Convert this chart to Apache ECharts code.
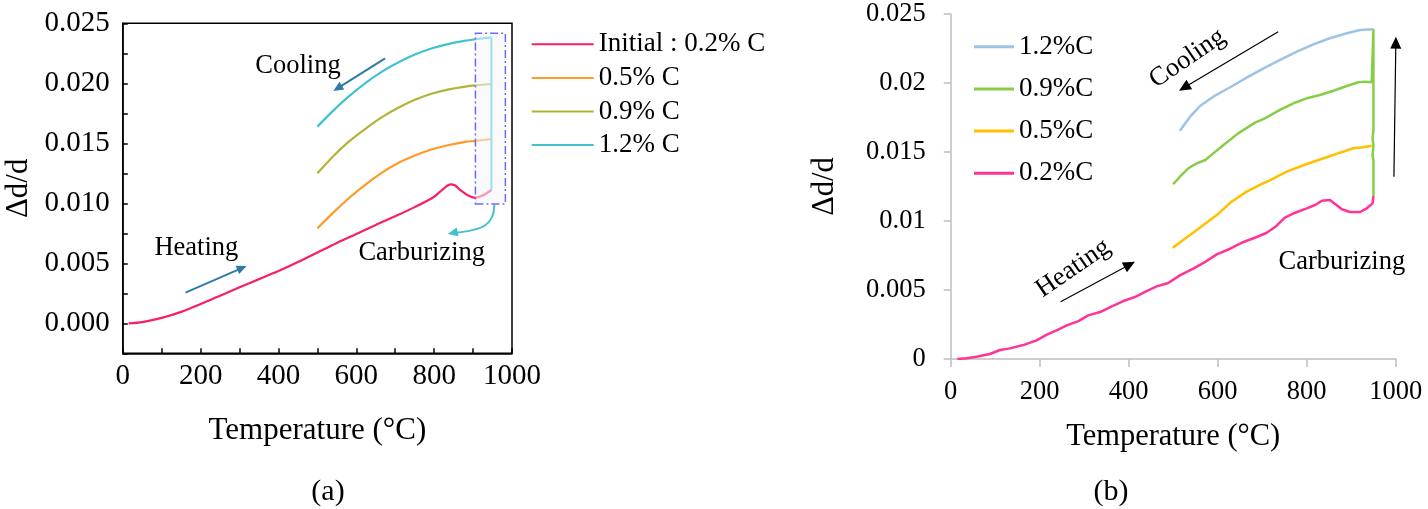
<!DOCTYPE html>
<html><head><meta charset="utf-8">
<script src="https://cdn.jsdelivr.net/npm/echarts@6/dist/echarts.min.js"></script>
<style>html,body{margin:0;padding:0;background:#fff}#c{width:1428px;height:509px}</style>
</head><body><div id="c"></div>
<script>
// ---------- Panel (a) data (values in units of 1e-3) ----------
const aHeatT = [15, 50, 100, 150, 200, 250, 300, 350, 400, 450, 500, 550, 600, 650, 700, 750, 800, 820, 842, 853, 867, 885, 906, 923, 947];
const aHeatV = [0, 0.1, 0.45, 0.95, 1.6, 2.3, 3.0, 3.68, 4.35, 5.1, 5.9, 6.7, 7.45, 8.2, 8.92, 9.68, 10.55, 11.1, 11.58, 11.5, 11.1, 10.7, 10.47, 10.62, 11.11];
const aCoolT = [500, 540, 580, 625, 667, 710, 752, 795, 838, 880, 906, 947];
const a05V = [7.92, 9.2, 10.4, 11.6, 12.58, 13.4, 14.0, 14.5, 14.86, 15.12, 15.2, 15.36];
const a09V = [12.5, 13.9, 15.12, 16.25, 17.2, 18.0, 18.65, 19.15, 19.5, 19.72, 19.82, 19.94];
const a12V = [16.39, 17.7, 18.89, 20.06, 20.99, 21.77, 22.42, 22.92, 23.29, 23.55, 23.67, 23.83];
const aCarbT = [947, 947];
const aCarbV = [11.11, 23.83];
const aNames = ['Initial : 0.2% C', '0.5% C', '0.9% C', '1.2% C'];

// ---------- Panel (b) data (values in units of 1e-3) ----------
const b02T = [15, 36, 58, 88, 111, 133, 163, 193, 216, 238, 261, 287, 309, 336, 362, 388, 414, 440, 463, 489, 515, 545, 568, 598, 628, 658, 688, 710, 729, 751, 774, 800, 819, 834, 852, 867, 879, 897, 920, 935, 948, 950];
const b02V = [0, 0.05, 0.17, 0.36, 0.65, 0.77, 1.01, 1.35, 1.77, 2.08, 2.44, 2.75, 3.16, 3.40, 3.81, 4.20, 4.49, 4.92, 5.26, 5.51, 6.06, 6.55, 6.96, 7.58, 7.99, 8.48, 8.84, 9.15, 9.56, 10.24, 10.6, 10.92, 11.16, 11.47, 11.52, 11.16, 10.85, 10.65, 10.65, 10.92, 11.28, 11.81];
const b05T = [499, 530, 568, 598, 631, 665, 695, 718, 755, 800, 845, 875, 905, 927, 946];
const b05V = [8.07, 8.81, 9.71, 10.43, 11.40, 12.13, 12.61, 12.97, 13.58, 14.13, 14.62, 14.95, 15.27, 15.34, 15.46];
const b09T = [500, 515, 534, 553, 572, 590, 613, 646, 684, 706, 740, 770, 800, 830, 860, 890, 916, 931, 946, 950, 950, 950, 948, 950, 948, 950, 950];
const b09V = [12.66, 13.21, 13.82, 14.18, 14.42, 14.9, 15.51, 16.35, 17.13, 17.44, 18.05, 18.53, 18.89, 19.13, 19.44, 19.78, 20.05, 20.10, 20.05, 20.05, 23.89, 16.6, 16.0, 15.4, 14.8, 14.3, 11.81];
const b12T = [515, 538, 560, 590, 628, 665, 703, 740, 778, 815, 852, 890, 920, 950];
const b12V = [16.54, 17.56, 18.33, 19.01, 19.69, 20.39, 21.06, 21.67, 22.27, 22.80, 23.24, 23.6, 23.84, 23.89];
const bNames = ['1.2%C', '0.9%C', '0.5%C', '0.2%C'];

// ---------- styling ----------
const FONT = '"Liberation Serif","Times New Roman",Times,serif';
const A_COL = ['#f71f68', '#ff9a26', '#b2b338', '#40c2d1'];
const B_COL = ['#9dc3e6', '#86ce47', '#ffc000', '#ff3399'];
const zip = (t, v) => t.map((x, i) => [x, v[i] / 1000]);

const chart = echarts.init(document.getElementById('c'), null, {renderer: 'canvas'});

function lineA(name, t, v, col, smooth) {
  return {name, type: 'line', xAxisIndex: 0, yAxisIndex: 0, data: zip(t, v), smooth: smooth, symbol: 'none',
    lineStyle: {color: col, width: 2.2}, itemStyle: {color: col}, z: 2, silent: true, animation: false};
}
function lineB(name, t, v, col) {
  return {name, type: 'line', xAxisIndex: 1, yAxisIndex: 1, data: zip(t, v), smooth: false, symbol: 'none',
    lineStyle: {color: col, width: 2.5}, itemStyle: {color: col}, z: 2, silent: true, animation: false};
}

const option = {
  animation: false,
  backgroundColor: '#fff',
  textStyle: {fontFamily: FONT},
  grid: [
    {left: 122.8, top: 23.3, width: 389.2, height: 330, show: true, borderColor: '#000', borderWidth: 1.5, backgroundColor: 'transparent', outerBoundsMode: 'none', containLabel: false},
    {left: 950.7, top: 14, width: 445, height: 345, show: false, outerBoundsMode: 'none', containLabel: false}
  ],
  xAxis: [
    {gridIndex: 0, type: 'value', min: 0, max: 1000, interval: 100,
      axisLine: {show: true, onZero: false, lineStyle: {color: '#000', width: 1.5}},
      axisTick: {show: true, inside: true, length: 5, lineStyle: {color: '#000', width: 1.5}},
      splitLine: {show: false},
      axisLabel: {fontSize: 29, color: '#000', fontFamily: FONT, margin: 9,
        formatter: v => { const k = Math.round(v / 100); return k % 2 ? '' : String(k * 100); }},
      name: 'Temperature (°C)', nameLocation: 'middle', nameGap: 62,
      nameTextStyle: {fontSize: 31, color: '#000', fontFamily: FONT}},
    {gridIndex: 1, type: 'value', min: 0, max: 1000, interval: 200,
      axisLine: {show: true, onZero: false, lineStyle: {color: '#bfbfbf', width: 1.5}},
      axisTick: {show: true, inside: false, length: 8, lineStyle: {color: '#bfbfbf', width: 1.5}},
      splitLine: {show: false},
      axisLabel: {fontSize: 26.5, color: '#000', fontFamily: FONT, margin: 20, formatter: v => String(Math.round(v))},
      name: 'Temperature (°C)', nameLocation: 'middle', nameGap: 62,
      nameTextStyle: {fontSize: 30.5, color: '#000', fontFamily: FONT}}
  ],
  yAxis: [
    {gridIndex: 0, type: 'value', min: -0.0025, max: 0.025, interval: 0.0025,
      axisLine: {show: true, onZero: false, lineStyle: {color: '#000', width: 1.5}},
      axisTick: {show: true, inside: true, length: 5, lineStyle: {color: '#000', width: 1.5}},
      splitLine: {show: false},
      axisLabel: {fontSize: 29, color: '#000', fontFamily: FONT, margin: 13,
        formatter: v => { const k = Math.round(v / 0.0025); return (k % 2 || k < 0) ? '' : (k * 0.0025).toFixed(3); }},
      name: 'Δd/d', nameLocation: 'middle', nameGap: 88,
      nameTextStyle: {fontSize: 31, color: '#000', fontFamily: FONT}},
    {gridIndex: 1, type: 'value', min: 0, max: 0.025, interval: 0.005,
      axisLine: {show: true, onZero: false, lineStyle: {color: '#bfbfbf', width: 1.5}},
      axisTick: {show: true, inside: false, length: 7, lineStyle: {color: '#bfbfbf', width: 1.5}},
      splitLine: {show: false},
      axisLabel: {fontSize: 26.5, color: '#000', fontFamily: FONT, margin: 25,
        formatter: v => String(parseFloat((+v).toFixed(4)))},
      name: 'Δd/d', nameLocation: 'middle', nameGap: 110,
      nameTextStyle: {fontSize: 30.5, color: '#000', fontFamily: FONT}}
  ],
  legend: [
    {data: aNames, orient: 'vertical', left: 526.7, top: 24.3, icon: 'rect', itemWidth: 62, itemHeight: 2, itemGap: 3.6,
      selectedMode: false, textStyle: {fontSize: 27, lineHeight: 30, color: '#000', fontFamily: FONT}},
    {data: bNames, orient: 'vertical', left: 969, top: 26.7, icon: 'rect', itemWidth: 40, itemHeight: 3, itemGap: 12.2,
      selectedMode: false, textStyle: {fontSize: 27, lineHeight: 30, color: '#000', fontFamily: FONT}}
  ],
  series: [
    lineA(aNames[0], aHeatT, aHeatV, A_COL[0], 0.3),
    lineA(aNames[1], aCoolT, a05V, A_COL[1], 0.3),
    lineA(aNames[2], aCoolT, a09V, A_COL[2], 0.3),
    lineA(aNames[3], aCoolT, a12V, A_COL[3], 0.3),
    lineA('carburizing (a)', aCarbT, aCarbV, A_COL[3], false),
    {name: 'box', type: 'line', xAxisIndex: 0, yAxisIndex: 0, data: [], symbol: 'none', z: 10, silent: true,
      markArea: {silent: true, z: 10,
        itemStyle: {color: 'rgba(246,246,250,0.55)', borderColor: '#6a6aff', borderWidth: 1.5, borderType: [8, 3, 2, 3]},
        data: [[{coord: [906, 0.00994]}, {coord: [983, 0.02417]}]]}},
    lineB(bNames[3], b02T, b02V, B_COL[3]),
    lineB(bNames[2], b05T, b05V, B_COL[2]),
    lineB(bNames[0], b12T, b12V, B_COL[0]),
    lineB(bNames[1], b09T, b09V, B_COL[1])
  ]
};
chart.setOption(option);

// ---------- annotations (positioned in data coordinates) ----------
const P = (g, x, y) => chart.convertToPixel({gridIndex: g}, [x, y / 1000]);
function arrow(p0, p1, color, lw, hl, hw) {
  const dx = p1[0] - p0[0], dy = p1[1] - p0[1], L = Math.hypot(dx, dy), ux = dx / L, uy = dy / L;
  const bx = p1[0] - ux * hl, by = p1[1] - uy * hl;
  return [
    {type: 'line', z: 100, silent: true, shape: {x1: p0[0], y1: p0[1], x2: bx + ux, y2: by + uy}, style: {stroke: color, lineWidth: lw}},
    {type: 'polygon', z: 100, silent: true, shape: {points: [[p1[0], p1[1]], [bx - uy * hw, by + ux * hw], [bx + uy * hw, by - ux * hw]]}, style: {fill: color}}
  ];
}
function txt(p, s, size, rot) {
  return {type: 'text', z: 100, silent: true, x: p[0], y: p[1], rotation: rot || 0,
    style: {text: s, font: size + 'px ' + FONT, fill: '#000', align: 'center', verticalAlign: 'middle'}};
}
const ARROW_A = '#2f7aa6', CARB_A = '#40c0cc';
let g = [];
// panel (a)
g = g.concat(arrow(P(0, 674, 22.08), P(0, 541, 19.36), ARROW_A, 2, 10, 4.5));
g = g.concat(arrow(P(0, 161, 2.55), P(0, 318, 4.78), ARROW_A, 2, 10, 4.5));
{
  const s = P(0, 954.5, 9.86), c1 = P(0, 954, 8.3), c2 = P(0, 930, 7.75), e = P(0, 835, 7.45);
  g.push({type: 'bezierCurve', z: 100, silent: true,
    shape: {x1: s[0], y1: s[1], cpx1: c1[0], cpy1: c1[1], cpx2: c2[0], cpy2: c2[1], x2: e[0] + 6, y2: e[1] - 1},
    style: {stroke: CARB_A, lineWidth: 2, fill: null}});
  g = g.concat(arrow([e[0] + 12, e[1] - 2.5], e, CARB_A, 0.1, 10, 4.5));
}
g.push(txt(P(0, 450, 21.44), 'Cooling', 26.5));
g.push(txt(P(0, 189, 6.25), 'Heating', 26.5));
g.push(txt(P(0, 768, 5.83), 'Carburizing', 26.5));
// panel (b)
g = g.concat(arrow(P(1, 736, 23.72), P(1, 513, 19.44), '#000', 1.2, 12, 5.5));
g = g.concat(arrow(P(1, 247, 4.15), P(1, 414, 7.05), '#000', 1.2, 12, 5.5));
g = g.concat(arrow(P(1, 996, 13.2), P(1, 1000.5, 23.36), '#000', 1.2, 12, 5.5));
g.push(txt(P(1, 532, 21.79), 'Cooling', 26.5, 0.6));
g.push(txt(P(1, 275, 6.57), 'Heating', 26.5, 0.6));
g.push(txt(P(1, 879, 7.05), 'Carburizing', 26.5));
// captions
g.push(txt([328, 492], '(a)', 30));
g.push(txt([1111, 492], '(b)', 30));
chart.setOption({graphic: g});
</script></body></html>
